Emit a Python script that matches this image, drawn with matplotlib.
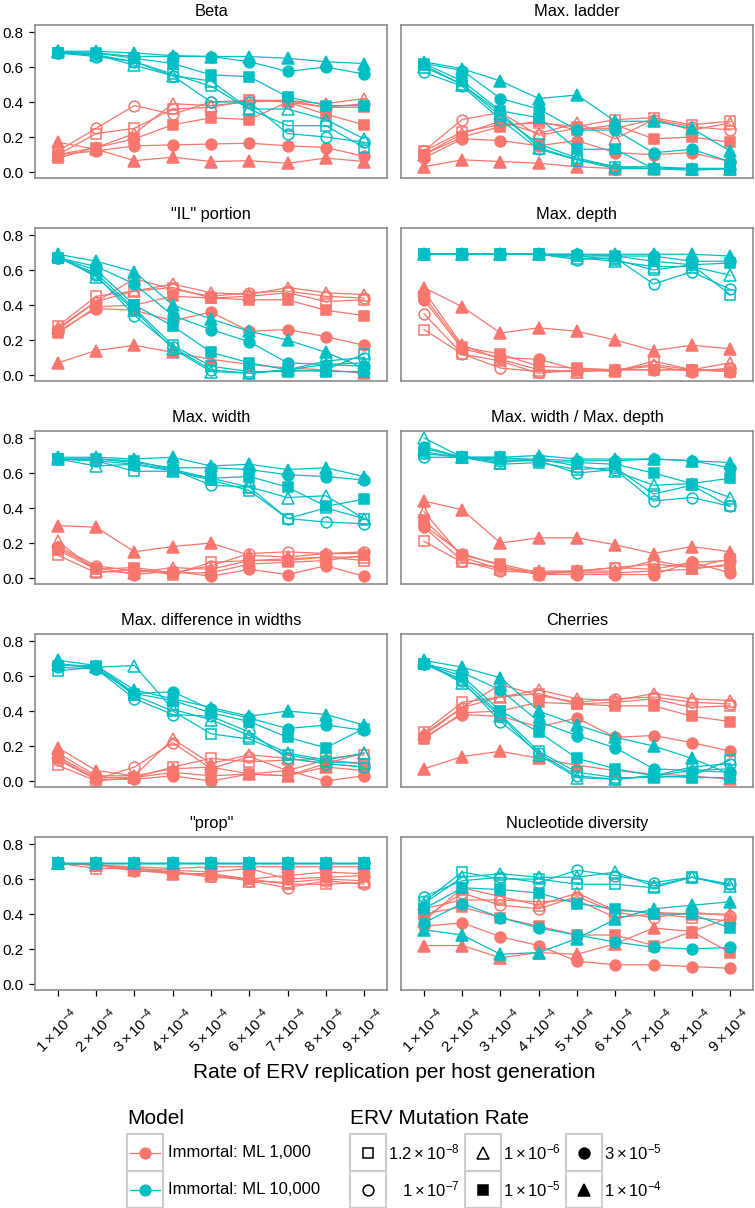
import numpy as np
import matplotlib.pyplot as plt
from matplotlib.patches import Rectangle
from matplotlib.transforms import ScaledTranslation

plt.rcParams['font.family'] = ['Liberation Sans', 'DejaVu Sans']
plt.rcParams['mathtext.fontset'] = 'custom'
plt.rcParams['mathtext.rm'] = 'Liberation Sans'
plt.rcParams['mathtext.it'] = 'Liberation Sans:italic'
plt.rcParams['mathtext.bf'] = 'Liberation Sans:bold'

RED = '#F8766D'
TEAL = '#00BFC4'

# x categories: ERV replication rate (x 1e-4)
rates = [1, 2, 3, 4, 5, 6, 7, 8, 9]
rate_labels = [r'$%d\times10^{-4}$' % r for r in rates]

models = ['Immortal: ML 1,000', 'Immortal: ML 10,000']
mut_labels = [r'$1.2\times10^{-8}$', r'$1\times10^{-7}$', r'$1\times10^{-6}$',
              r'$1\times10^{-5}$', r'$3\times10^{-5}$', r'$1\times10^{-4}$']

# rows: mutation rate 1.2e-8, 1e-7, 1e-6, 1e-5, 3e-5, 1e-4
beta_ml1k = [
    [0.10, 0.22, 0.25, 0.36, 0.37, 0.41, 0.41, 0.37, 0.37],
    [0.12, 0.25, 0.38, 0.33, 0.40, 0.41, 0.40, 0.37, 0.39],
    [0.10, 0.14, 0.22, 0.39, 0.38, 0.40, 0.41, 0.39, 0.42],
    [0.08, 0.14, 0.19, 0.27, 0.31, 0.30, 0.40, 0.33, 0.27],
    [0.10, 0.12, 0.15, 0.155, 0.16, 0.165, 0.15, 0.14, 0.09],
    [0.17, 0.13, 0.065, 0.085, 0.06, 0.065, 0.05, 0.08, 0.06],
]
beta_ml10k = [
    [0.68, 0.67, 0.63, 0.56, 0.49, 0.36, 0.265, 0.265, 0.14],
    [0.68, 0.66, 0.63, 0.55, 0.40, 0.40, 0.22, 0.20, 0.17],
    [0.69, 0.67, 0.61, 0.55, 0.52, 0.36, 0.36, 0.30, 0.19],
    [0.68, 0.68, 0.65, 0.62, 0.555, 0.545, 0.43, 0.38, 0.38],
    [0.68, 0.68, 0.66, 0.66, 0.66, 0.63, 0.575, 0.60, 0.56],
    [0.69, 0.69, 0.68, 0.665, 0.66, 0.66, 0.65, 0.63, 0.62],
]
ladder_ml1k = [
    [0.12, 0.23, 0.27, 0.28, 0.26, 0.30, 0.31, 0.27, 0.29],
    [0.12, 0.30, 0.34, 0.21, 0.25, 0.25, 0.30, 0.26, 0.24],
    [0.10, 0.22, 0.29, 0.22, 0.28, 0.19, 0.30, 0.24, 0.28],
    [0.10, 0.20, 0.26, 0.29, 0.24, 0.27, 0.19, 0.20, 0.17],
    [0.08, 0.19, 0.18, 0.15, 0.18, 0.11, 0.10, 0.11, 0.06],
    [0.03, 0.07, 0.06, 0.05, 0.03, 0.02, 0.02, 0.02, 0.02],
]
ladder_ml10k = [
    [0.61, 0.50, 0.32, 0.16, 0.08, 0.03, 0.02, 0.01, 0.02],
    [0.57, 0.49, 0.30, 0.13, 0.07, 0.02, 0.02, 0.02, 0.02],
    [0.60, 0.50, 0.34, 0.14, 0.07, 0.03, 0.03, 0.02, 0.02],
    [0.62, 0.52, 0.35, 0.31, 0.13, 0.13, 0.02, 0.02, 0.02],
    [0.62, 0.58, 0.42, 0.36, 0.24, 0.24, 0.11, 0.13, 0.06],
    [0.63, 0.59, 0.52, 0.42, 0.44, 0.29, 0.29, 0.25, 0.12],
]
il_ml1k = [
    [0.28, 0.45, 0.48, 0.50, 0.44, 0.45, 0.47, 0.42, 0.43],
    [0.26, 0.42, 0.55, 0.49, 0.45, 0.47, 0.48, 0.45, 0.44],
    [0.27, 0.42, 0.48, 0.52, 0.47, 0.46, 0.50, 0.47, 0.46],
    [0.24, 0.39, 0.40, 0.45, 0.44, 0.43, 0.43, 0.37, 0.34],
    [0.25, 0.38, 0.37, 0.31, 0.36, 0.25, 0.26, 0.22, 0.17],
    [0.07, 0.14, 0.17, 0.13, 0.09, 0.06, 0.04, 0.03, 0.01],
]
il_ml10k = [
    [0.67, 0.58, 0.38, 0.17, 0.05, 0.02, 0.02, 0.03, 0.12],
    [0.67, 0.57, 0.34, 0.16, 0.03, 0.01, 0.03, 0.08, 0.10],
    [0.68, 0.56, 0.37, 0.15, 0.02, 0.01, 0.03, 0.06, 0.07],
    [0.67, 0.60, 0.40, 0.28, 0.13, 0.07, 0.03, 0.02, 0.02],
    [0.67, 0.62, 0.52, 0.34, 0.26, 0.19, 0.07, 0.06, 0.05],
    [0.69, 0.65, 0.59, 0.40, 0.32, 0.25, 0.20, 0.13, 0.04],
]
depth_ml1k = [
    [0.26, 0.12, 0.08, 0.01, 0.03, 0.02, 0.08, 0.03, 0.03],
    [0.35, 0.12, 0.04, 0.02, 0.02, 0.03, 0.05, 0.02, 0.04],
    [0.48, 0.17, 0.09, 0.03, 0.02, 0.03, 0.06, 0.03, 0.07],
    [0.45, 0.16, 0.12, 0.05, 0.04, 0.03, 0.03, 0.03, 0.02],
    [0.43, 0.15, 0.10, 0.09, 0.03, 0.03, 0.03, 0.03, 0.02],
    [0.50, 0.39, 0.24, 0.27, 0.25, 0.20, 0.14, 0.17, 0.15],
]
depth_ml10k = [
    [0.69, 0.69, 0.69, 0.69, 0.68, 0.66, 0.60, 0.63, 0.46],
    [0.69, 0.69, 0.69, 0.69, 0.66, 0.67, 0.52, 0.59, 0.49],
    [0.69, 0.69, 0.69, 0.69, 0.67, 0.65, 0.62, 0.62, 0.57],
    [0.69, 0.69, 0.69, 0.69, 0.68, 0.68, 0.65, 0.63, 0.64],
    [0.69, 0.69, 0.69, 0.69, 0.69, 0.68, 0.68, 0.65, 0.65],
    [0.69, 0.69, 0.69, 0.69, 0.69, 0.69, 0.69, 0.69, 0.68],
]
width_ml1k = [
    [0.13, 0.03, 0.05, 0.02, 0.09, 0.10, 0.10, 0.12, 0.10],
    [0.18, 0.07, 0.04, 0.03, 0.07, 0.14, 0.15, 0.14, 0.15],
    [0.21, 0.04, 0.03, 0.06, 0.05, 0.10, 0.11, 0.12, 0.12],
    [0.16, 0.05, 0.06, 0.03, 0.03, 0.08, 0.09, 0.10, 0.13],
    [0.17, 0.06, 0.02, 0.04, 0.01, 0.05, 0.02, 0.07, 0.01],
    [0.30, 0.29, 0.15, 0.18, 0.20, 0.13, 0.12, 0.14, 0.14],
]
width_ml10k = [
    [0.68, 0.67, 0.61, 0.61, 0.56, 0.50, 0.34, 0.40, 0.34],
    [0.68, 0.67, 0.65, 0.62, 0.53, 0.52, 0.34, 0.32, 0.31],
    [0.68, 0.64, 0.65, 0.61, 0.57, 0.52, 0.46, 0.47, 0.34],
    [0.68, 0.68, 0.67, 0.62, 0.57, 0.58, 0.52, 0.41, 0.45],
    [0.68, 0.68, 0.66, 0.63, 0.63, 0.62, 0.59, 0.58, 0.56],
    [0.69, 0.69, 0.68, 0.69, 0.64, 0.65, 0.62, 0.63, 0.58],
]
wd_ml1k = [
    [0.21, 0.09, 0.06, 0.02, 0.04, 0.06, 0.08, 0.06, 0.11],
    [0.29, 0.10, 0.04, 0.03, 0.04, 0.06, 0.05, 0.09, 0.10],
    [0.38, 0.12, 0.05, 0.04, 0.04, 0.04, 0.10, 0.06, 0.07],
    [0.33, 0.13, 0.08, 0.03, 0.03, 0.03, 0.04, 0.05, 0.08],
    [0.30, 0.14, 0.07, 0.02, 0.02, 0.02, 0.02, 0.09, 0.03],
    [0.44, 0.39, 0.20, 0.23, 0.23, 0.19, 0.14, 0.18, 0.15],
]
wd_ml10k = [
    [0.71, 0.69, 0.65, 0.66, 0.62, 0.63, 0.48, 0.53, 0.41],
    [0.69, 0.69, 0.67, 0.67, 0.60, 0.62, 0.44, 0.46, 0.41],
    [0.80, 0.69, 0.66, 0.68, 0.64, 0.61, 0.53, 0.54, 0.46],
    [0.72, 0.69, 0.69, 0.67, 0.66, 0.65, 0.60, 0.54, 0.57],
    [0.75, 0.69, 0.68, 0.68, 0.67, 0.67, 0.68, 0.67, 0.63],
    [0.74, 0.69, 0.69, 0.70, 0.68, 0.68, 0.68, 0.67, 0.66],
]
diff_ml1k = [
    [0.09, 0.00, 0.02, 0.08, 0.13, 0.11, 0.12, 0.13, 0.15],
    [0.12, 0.01, 0.08, 0.22, 0.07, 0.14, 0.06, 0.12, 0.10],
    [0.16, 0.03, 0.03, 0.24, 0.10, 0.15, 0.13, 0.10, 0.16],
    [0.14, 0.02, 0.02, 0.05, 0.03, 0.04, 0.03, 0.10, 0.08],
    [0.13, 0.01, 0.01, 0.03, 0.00, 0.04, 0.06, 0.00, 0.03],
    [0.19, 0.06, 0.03, 0.07, 0.08, 0.04, 0.03, 0.08, 0.06],
]
diff_ml10k = [
    [0.63, 0.65, 0.49, 0.40, 0.27, 0.24, 0.15, 0.11, 0.10],
    [0.65, 0.64, 0.47, 0.38, 0.37, 0.28, 0.13, 0.10, 0.08],
    [0.67, 0.65, 0.66, 0.41, 0.35, 0.26, 0.16, 0.12, 0.16],
    [0.66, 0.66, 0.50, 0.46, 0.39, 0.34, 0.25, 0.19, 0.30],
    [0.67, 0.64, 0.50, 0.51, 0.41, 0.36, 0.30, 0.32, 0.29],
    [0.69, 0.66, 0.52, 0.47, 0.42, 0.37, 0.40, 0.38, 0.32],
]
cherries_ml1k = [
    [0.28, 0.45, 0.48, 0.50, 0.44, 0.45, 0.47, 0.42, 0.43],
    [0.26, 0.42, 0.55, 0.49, 0.45, 0.47, 0.48, 0.45, 0.44],
    [0.27, 0.42, 0.48, 0.52, 0.47, 0.46, 0.50, 0.47, 0.46],
    [0.24, 0.39, 0.40, 0.45, 0.44, 0.43, 0.43, 0.37, 0.34],
    [0.25, 0.38, 0.37, 0.31, 0.36, 0.25, 0.26, 0.22, 0.17],
    [0.07, 0.14, 0.17, 0.13, 0.09, 0.06, 0.04, 0.03, 0.01],
]
cherries_ml10k = [
    [0.67, 0.58, 0.38, 0.17, 0.05, 0.02, 0.02, 0.03, 0.12],
    [0.67, 0.57, 0.34, 0.16, 0.03, 0.01, 0.03, 0.08, 0.10],
    [0.68, 0.56, 0.37, 0.15, 0.02, 0.01, 0.03, 0.06, 0.07],
    [0.67, 0.60, 0.40, 0.28, 0.13, 0.07, 0.03, 0.02, 0.02],
    [0.67, 0.62, 0.52, 0.34, 0.26, 0.19, 0.07, 0.06, 0.05],
    [0.69, 0.65, 0.59, 0.40, 0.32, 0.25, 0.20, 0.13, 0.04],
]
prop_ml1k = [
    [0.69, 0.66, 0.66, 0.64, 0.61, 0.60, 0.57, 0.57, 0.58],
    [0.69, 0.68, 0.645, 0.64, 0.62, 0.59, 0.55, 0.59, 0.57],
    [0.69, 0.68, 0.65, 0.63, 0.63, 0.59, 0.58, 0.60, 0.59],
    [0.69, 0.68, 0.66, 0.63, 0.63, 0.60, 0.62, 0.64, 0.63],
    [0.69, 0.68, 0.66, 0.65, 0.64, 0.66, 0.60, 0.61, 0.62],
    [0.69, 0.68, 0.67, 0.66, 0.67, 0.67, 0.67, 0.67, 0.67],
]
prop_ml10k = [
    [0.69, 0.69, 0.69, 0.69, 0.69, 0.69, 0.69, 0.69, 0.69],
    [0.69, 0.69, 0.69, 0.69, 0.69, 0.69, 0.69, 0.69, 0.69],
    [0.69, 0.69, 0.69, 0.69, 0.69, 0.69, 0.69, 0.69, 0.69],
    [0.69, 0.69, 0.69, 0.69, 0.69, 0.69, 0.69, 0.69, 0.69],
    [0.69, 0.69, 0.69, 0.69, 0.69, 0.69, 0.69, 0.69, 0.69],
    [0.69, 0.69, 0.69, 0.69, 0.69, 0.69, 0.69, 0.69, 0.69],
]
nuc_ml1k = [
    [0.43, 0.48, 0.48, 0.47, 0.48, 0.38, 0.40, 0.38, 0.36],
    [0.38, 0.52, 0.45, 0.43, 0.50, 0.41, 0.38, 0.41, 0.39],
    [0.36, 0.55, 0.50, 0.45, 0.52, 0.42, 0.41, 0.40, 0.40],
    [0.40, 0.44, 0.38, 0.33, 0.28, 0.28, 0.22, 0.30, 0.18],
    [0.33, 0.35, 0.27, 0.22, 0.13, 0.11, 0.11, 0.10, 0.09],
    [0.22, 0.22, 0.15, 0.18, 0.17, 0.23, 0.32, 0.30, 0.38],
]
nuc_ml10k = [
    [0.47, 0.64, 0.60, 0.60, 0.57, 0.57, 0.55, 0.61, 0.57],
    [0.50, 0.59, 0.61, 0.58, 0.65, 0.62, 0.58, 0.61, 0.57],
    [0.46, 0.61, 0.63, 0.61, 0.61, 0.64, 0.56, 0.61, 0.56],
    [0.43, 0.55, 0.54, 0.52, 0.46, 0.43, 0.40, 0.40, 0.32],
    [0.35, 0.46, 0.38, 0.32, 0.28, 0.24, 0.21, 0.20, 0.21],
    [0.31, 0.28, 0.17, 0.18, 0.26, 0.37, 0.43, 0.45, 0.47],
]

panel_titles = ['Beta', 'Max. ladder', '"IL" portion', 'Max. depth', 'Max. width',
                'Max. width / Max. depth', 'Max. difference in widths', 'Cherries',
                '"prop"', 'Nucleotide diversity']
panel_data = [
    (beta_ml1k, beta_ml10k), (ladder_ml1k, ladder_ml10k), (il_ml1k, il_ml10k),
    (depth_ml1k, depth_ml10k), (width_ml1k, width_ml10k), (wd_ml1k, wd_ml10k),
    (diff_ml1k, diff_ml10k), (cherries_ml1k, cherries_ml10k), (prop_ml1k, prop_ml10k),
    (nuc_ml1k, nuc_ml10k),
]

# marker shape, filled?, size for each mutation rate
shapes = [('s', False, 7.0), ('o', False, 7.8), ('^', False, 8.4),
          ('s', True, 7.0), ('o', True, 7.8), ('^', True, 8.4)]
colors = [RED, TEAL]

W, H = 755, 1208
fig = plt.figure(figsize=(W / 100, H / 100), dpi=100)


def px_axes(x0, y0, w, h):
    return fig.add_axes([x0 / W, 1 - (y0 + h) / H, w / W, h / H])


BORDER = '#8c8c8c'
label_shift = ScaledTranslation(0.12, -0.10, fig.dpi_scale_trans)
for i, (title, series) in enumerate(zip(panel_titles, panel_data)):
    row, col = divmod(i, 2)
    x0 = 35 if col == 0 else 401
    y0 = 25 + row * 203
    ax = px_axes(x0, y0, 352, 153)
    for m, data in enumerate(series):
        for k, (mk, filled, ms) in enumerate(shapes):
            ax.plot(rates, data[k], color=colors[m], lw=0.9, marker=mk, ms=ms,
                    mfc=colors[m] if filled else 'none', mec=colors[m],
                    mew=1.1, zorder=2 + m)
    ax.set_xlim(0.4, 9.6)
    ax.set_ylim(-0.034, 0.84)
    ax.set_yticks([0.0, 0.2, 0.4, 0.6, 0.8])
    ax.set_yticklabels(['0.0', '0.2', '0.4', '0.6', '0.8'])
    for s in ax.spines.values():
        s.set_color(BORDER)
        s.set_linewidth(1.2)
    ax.set_title(title, fontsize=11.8, pad=6.5)
    ax.tick_params(axis='y', length=4, width=0.9, color='black', labelsize=11, pad=4.5)
    if col == 1:
        ax.tick_params(axis='y', left=False, labelleft=False)
    ax.set_xticks(rates)
    if row == 4:
        ax.set_xticklabels(rate_labels, rotation=45, ha='right', va='top',
                           rotation_mode='anchor')
        ax.tick_params(axis='x', length=4, width=0.9, color='black', labelsize=11, pad=0)
        for lab in ax.get_xticklabels():
            lab.set_transform(lab.get_transform() + label_shift)
    else:
        ax.tick_params(axis='x', bottom=False, labelbottom=False)

fig.text(394 / W, 1 - 1073 / H, 'Rate of ERV replication per host generation',
         ha='center', va='center', fontsize=15)

# legend area drawn in pixel coordinates
lax = fig.add_axes([0, 0, 1, 1])
lax.set_xlim(0, W)
lax.set_ylim(H, 0)
lax.axis('off')
KEYB = '#cccccc'
lax.text(127, 1118, 'Model', fontsize=15, ha='left', va='center')
for j, name in enumerate(models):
    ky = 1134 + j * 37
    lax.add_patch(Rectangle((127, ky), 36, 37, fill=False, ec=KEYB, lw=1.5))
    cy = ky + 18.5
    lax.plot([130, 160], [cy, cy], color=colors[j], lw=0.9)
    lax.plot([145], [cy], marker='o', ms=7.8, color=colors[j])
    lax.text(168, cy, name, fontsize=12, ha='left', va='center')

lax.text(350, 1118, 'ERV Mutation Rate', fontsize=15, ha='left', va='center')
key_x = [350, 465, 566]
lab_end = [460, 561, 662]
for k, (mk, filled, ms) in enumerate(shapes):
    c, r = divmod(k, 2)
    ky = 1134 + r * 37
    lax.add_patch(Rectangle((key_x[c], ky), 36, 37, fill=False, ec=KEYB, lw=1.5))
    cy = ky + 18.5
    lax.plot([key_x[c] + 18], [cy], marker=mk, ms=ms, mec='black',
             mfc='black' if filled else 'none', mew=1.1)
    lax.text(lab_end[c], cy, mut_labels[k], fontsize=12, ha='right', va='center')

fig.savefig('out.png', dpi=100)
